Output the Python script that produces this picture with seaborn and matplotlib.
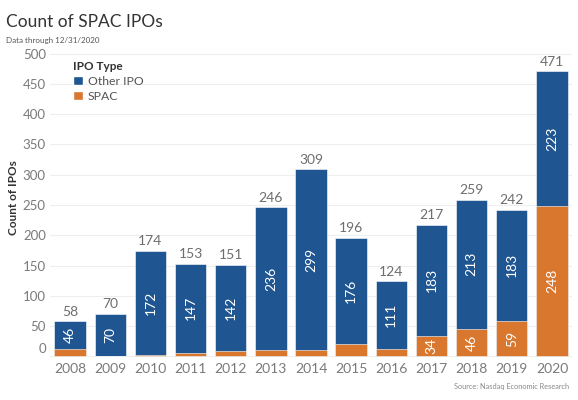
import matplotlib
matplotlib.use("Agg")
import matplotlib.pyplot as plt
import matplotlib.transforms as mtransforms
from matplotlib.patches import Patch
import seaborn as sns
import pandas as pd

years = ["2008", "2009", "2010", "2011", "2012", "2013", "2014",
         "2015", "2016", "2017", "2018", "2019", "2020"]
other_ipo = [46, 70, 172, 147, 142, 236, 299, 176, 111, 183, 213, 183, 223]
spac = [12, 0, 2, 6, 9, 10, 10, 20, 13, 34, 46, 59, 248]
spac_labels_shown = ["2017", "2018", "2019", "2020"]
yticks = [0, 50, 100, 150, 200, 250, 300, 350, 400, 450, 500]

total = [o + s for o, s in zip(other_ipo, spac)]
df = pd.DataFrame({"year": years, "other": other_ipo, "spac": spac, "total": total})

BLUE = "#1f5591"
ORANGE = "#d9772f"

sns.set_theme(style="white")
plt.rcParams["font.family"] = ["Lato", "DejaVu Sans"]

fig = plt.figure(figsize=(5.78, 4.0), dpi=100)
ax = fig.add_axes([50 / 578, 43 / 400, 522 / 578, 310 / 400])

sns.barplot(data=df, x="year", y="total", color=BLUE, width=0.78,
            saturation=1, ax=ax, edgecolor="white", linewidth=0.4, zorder=2)
sns.barplot(data=df, x="year", y="spac", color=ORANGE, width=0.78,
            saturation=1, ax=ax, edgecolor="white", linewidth=0.4, zorder=3)

ax.set_xlim(-0.5, len(years) - 0.5)
ax.set_ylim(-1, 511)
ax.set_yticks(yticks)
ax.yaxis.grid(True, color="#eeeeee", linewidth=0.8, zorder=0)
ax.set_axisbelow(True)
for s in ax.spines.values():
    s.set_visible(False)
ax.tick_params(axis="both", length=0, colors="#7a7a7a", labelsize=10)
ax.tick_params(axis="y", labelsize=9.5, pad=3)
ax.tick_params(axis="x", pad=4)
ax.set_xlabel("")
ax.set_ylabel("")
fig.text(14 / 578, 1 - 198 / 400, "Count of IPOs", rotation=90, fontsize=8.5,
         fontweight="bold", color="#333333", ha="center", va="center")

# shift the "0" tick label upward like the reference
for lbl in ax.get_yticklabels():
    if lbl.get_text() == "0":
        lbl.set_transform(lbl.get_transform() + mtransforms.ScaledTranslation(0, 0.08, fig.dpi_scale_trans))

for i, (y, o, s, t) in enumerate(zip(years, other_ipo, spac, total)):
    ax.text(i, t + 6, str(t), ha="center", va="bottom", fontsize=10, color="#6e6e6e")
    ax.text(i, s + o / 2, str(o), ha="center", va="center", rotation=90,
            fontsize=10, color="white")
    if y in spac_labels_shown:
        ax.text(i, s / 2, str(s), ha="center", va="center", rotation=90,
                fontsize=10, color="white")

handles = [Patch(facecolor=BLUE, label="Other IPO"), Patch(facecolor=ORANGE, label="SPAC")]
leg = ax.legend(handles=handles, title="IPO Type", loc="upper left",
                bbox_to_anchor=(0.035, 0.97), frameon=False, fontsize=8.8,
                title_fontsize=8.5, handlelength=0.8, handleheight=0.8,
                handletextpad=0.4, labelspacing=0.3, borderaxespad=0)
leg.get_title().set_fontweight("bold")
leg.get_title().set_color("#333333")
leg._legend_box.align = "left"
for t in leg.get_texts():
    t.set_color("#555555")

fig.text(6 / 578, 1 - 22 / 400, "Count of SPAC IPOs", fontsize=12.5, color="#333333", va="center")
fig.text(6 / 578, 1 - 40 / 400, "Data through 12/31/2020", fontsize=5.8, color="#555555", va="center")
fig.text(569 / 578, 1 - 387 / 400, "Source: Nasdaq Economic Research", fontsize=5.3,
         color="#888888", ha="right", va="center")

fig.savefig("out.png", dpi=100)
